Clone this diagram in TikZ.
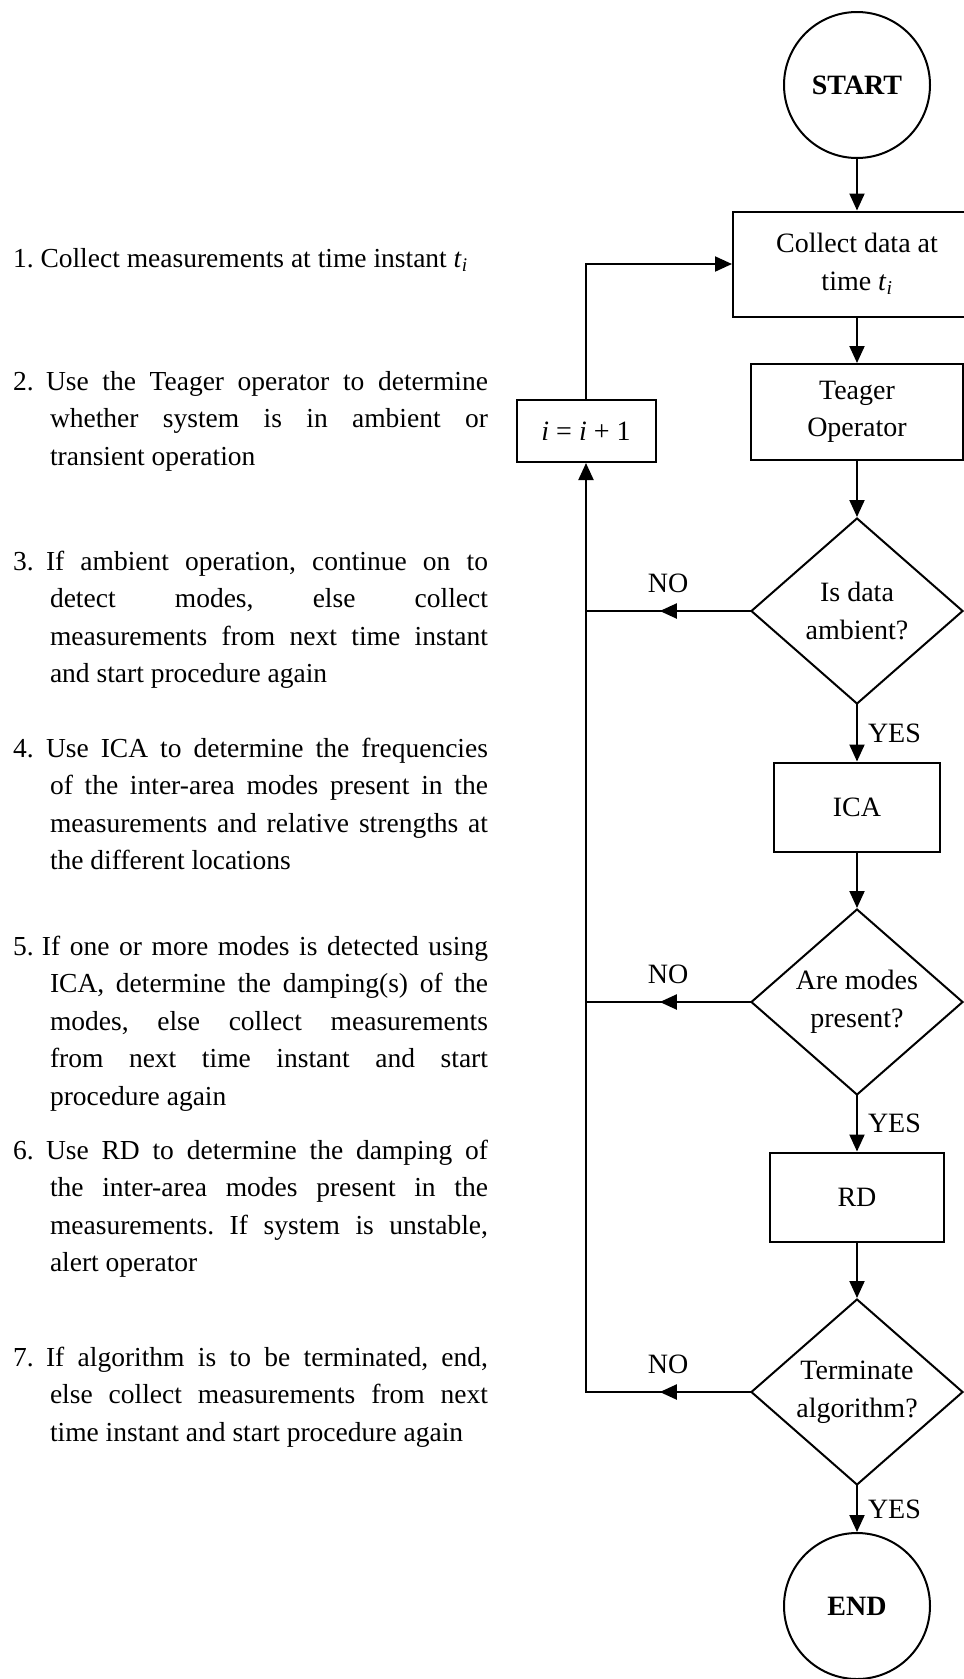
\documentclass[tikz,border=0pt]{standalone}
\usepackage{fontspec}
\setmainfont{Liberation Serif}
\usetikzlibrary{positioning,shapes.geometric,arrows.meta,decorations.markings}

\newcommand{\tsub}{\textit{t}\textsubscript{\textit{i}}}

\begin{document}
\begin{tikzpicture}[x=1pt,y=-1pt,line width=2pt,line cap=rect,
        every node/.style={font=\fontsize{28}{37.5}\selectfont},
        arr/.style={-{Triangle[length=17pt,width=15pt]}},
        midarrow/.style={postaction={decorate},
          decoration={markings,mark=at position 0.55 with {\arrow{Triangle[length=17pt,width=15pt]}}}},
        procbox/.style={draw,rectangle,align=center,inner sep=0pt},
        decision/.style={draw,diamond,align=center,inner sep=0pt,
          minimum width=212pt,minimum height=186pt},
        terminal/.style={draw,circle,minimum size=146pt,inner sep=0pt,
          font=\fontsize{28}{37.5}\selectfont\bfseries},
        lbl/.style={inner sep=2pt},
        note/.style={anchor=base west,text width=475pt,align=justify,inner sep=0pt,
          font=\fontsize{27.5}{37.5}\selectfont,
          execute at begin node={\frenchspacing
            \spaceskip=0.25em plus 0.35em minus 0.17em\relax
            \hangindent=37pt\relax\hangafter=1\relax}}]
        \useasboundingbox (0,0) rectangle (964,1679);

        % steps on the left
        \node[note] (s1) at (12,267) {1. Collect measurements at time instant \tsub};
        \node[note] (s2) at (12,390) {\makebox[33pt][l]{2.}Use
          the Teager operator to determine\linebreak whether system is in ambient or\linebreak
          transient operation};
        \node[note] (s3) at (12,570) {\makebox[33pt][l]{3.}If
          ambient operation, continue on to\linebreak detect modes, else collect\linebreak
          measurements from next time instant\linebreak and start procedure again};
        \node[note] (s4) at (12,757) {\makebox[33pt][l]{4.}Use
          ICA to determine the frequencies\linebreak of the inter-area modes present in the\linebreak
          measurements and relative strengths at\linebreak the different locations};
        \node[note] (s5) at (12,955) {\makebox[29pt][l]{5.}If
          one or more modes is detected using\linebreak ICA, determine the damping(s) of the\linebreak
          modes, else collect measurements\linebreak from next time instant and start\linebreak
          procedure again};
        \node[note] (s6) at (12,1159) {\makebox[33pt][l]{6.}Use
          RD to determine the damping of\linebreak the inter-area modes present in the\linebreak
          measurements. If system is unstable,\linebreak alert operator};
        \node[note] (s7) at (12,1366) {\makebox[33pt][l]{7.}If
          algorithm is to be terminated, end,\linebreak else collect measurements from next\linebreak
          time instant and start procedure again};

        % flow chart
        \node[terminal] (start) at (857,85) {START};
        \node[procbox,minimum width=248pt,minimum height=105pt] (collect) at (857,264)
          {Collect data at\\ time \tsub};
        \node[procbox,minimum width=212pt,minimum height=96pt] (teager) at (857,412)
          {Teager\\ Operator};
        \node[decision] (ambient) at (857,611) {Is data\\ ambient?};
        \node[procbox,minimum width=166pt,minimum height=89pt] (ica) at (857,807) {ICA};
        \node[decision] (modes) at (857,1002) {Are modes\\ present?};
        \node[procbox,minimum width=174pt,minimum height=89pt] (rd) at (857,1197) {RD};
        \node[decision] (term) at (857,1392) {Terminate\\ algorithm?};
        \node[terminal] (finish) at (857,1606) {END};
        \node[procbox,minimum width=139pt,minimum height=62pt] (inc) at (586,431)
          {\textit{i} = \textit{i} + 1};

        \draw[arr] (start) -- (collect);
        \draw[arr] (collect) -- (teager);
        \draw[arr] (teager) -- (ambient);
        \draw[arr] (ambient) -- node[lbl,right=8pt] {YES} (ica);
        \draw[arr] (ica) -- (modes);
        \draw[arr] (modes) -- node[lbl,right=8pt] {YES} (rd);
        \draw[arr] (rd) -- (term);
        \draw[arr] (term) -- node[lbl,right=8pt] {YES} (finish);

        % NO branches back to the counter
        \draw[midarrow] (ambient.west) -- node[lbl,above=15pt] {NO} (ambient.west -| inc.south);
        \draw[midarrow] (modes.west) -- node[lbl,above=15pt] {NO} (modes.west -| inc.south);
        \draw[midarrow] (term.west) -- node[lbl,above=15pt] {NO} (term.west -| inc.south)
          coordinate (back);
        \draw[arr] (back) -- (inc.south);
        \draw[arr] (inc.north) |- (collect.west);
\end{tikzpicture}
\end{document}
